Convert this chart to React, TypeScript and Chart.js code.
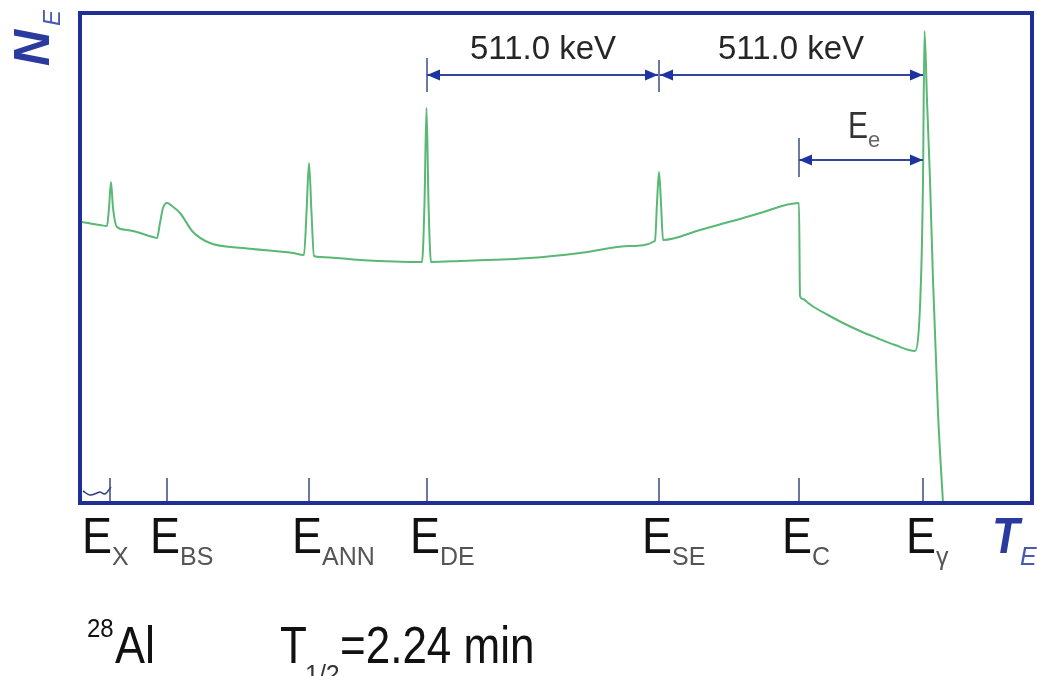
import React, { useEffect, useRef } from "react";
import { Chart, registerables } from "chart.js";

Chart.register(...registerables);

// Spectrum (schematic, arbitrary channel units vs. counts)
const channels = [
  2, 20, 27, 29, 31, 33, 37, 47, 73, 77, 80, 83, 87, 92, 100, 113, 130, 163, 213, 224,
  226.5, 229, 231.5, 234, 240, 280, 342, 344.5, 346.5, 348.5, 351, 380, 450, 500, 550,
  575, 577, 579, 581, 583, 620, 670, 680, 719, 720, 723, 727, 733, 748, 763, 780, 797, 815, 835,
  841, 843, 844.5, 847, 850, 853, 858, 863,
];
const counts = [
  281, 278, 277, 295, 321, 295, 276, 273, 266, 265, 280, 295, 300, 297, 290, 271, 260, 255, 250, 248,
  290, 340, 290, 247, 246, 243, 241, 300, 395, 300, 241, 242, 245, 250, 257,
  262, 300, 331, 300, 263, 273, 287, 290, 300, 207, 204, 201, 196.5, 188, 180, 172, 165, 158, 152,
  223, 323, 472, 403, 323, 223, 90, 0,
];

// small low-energy squiggle at the axis
const squiggleX = [3, 10, 17, 20, 25, 31];
const squiggleY = [12, 8, 10, 11, 9, 16];

// x-axis marker energies (channels) and their subscripts
const markerChannels = [30, 87, 229, 347, 579, 719, 843];
const markerSubs = ["X", "BS", "ANN", "DE", "SE", "C", "\u03b3"];

const gapLabel = "511.0 keV";
const Y_MAX = 490;
const X_MAX = 952;

const FONT = '"Liberation Sans", Arial, Helvetica, sans-serif';

function stretchedText(
  ctx: CanvasRenderingContext2D,
  text: string,
  x: number,
  baseline: number,
  font: string,
  color: string,
  sy = 1,
  align: CanvasTextAlign = "left"
) {
  ctx.save();
  ctx.font = font;
  ctx.fillStyle = color;
  ctx.textAlign = align;
  ctx.textBaseline = "alphabetic";
  ctx.translate(x, baseline);
  ctx.scale(1, sy);
  ctx.fillText(text, 0, 0);
  ctx.restore();
}

function arrowHead(ctx: CanvasRenderingContext2D, tipX: number, y: number, dir: number) {
  ctx.beginPath();
  ctx.moveTo(tipX, y);
  ctx.lineTo(tipX - dir * 13, y - 5.5);
  ctx.lineTo(tipX - dir * 13, y + 5.5);
  ctx.closePath();
  ctx.fill();
}

const overlay = {
  id: "overlay",
  afterDatasetsDraw(chart: any) {
    const { ctx, chartArea: a, scales } = chart;
    const xs = scales.x;
    const ys = scales.y;
    const px = (v: number) => xs.getPixelForValue(v);
    const py = (v: number) => ys.getPixelForValue(v);

    ctx.save();
    // marker ticks inside plot
    ctx.strokeStyle = "#3c4a78";
    ctx.lineWidth = 1.5;
    markerChannels.forEach((c) => {
      ctx.beginPath();
      ctx.moveTo(px(c), a.bottom);
      ctx.lineTo(px(c), a.bottom - 25);
      ctx.stroke();
    });

    // frame
    ctx.strokeStyle = "#1f2f95";
    ctx.lineWidth = 4;
    ctx.strokeRect(a.left, a.top, a.right - a.left, a.bottom - a.top);

    // dimension arrows
    const xDE = px(markerChannels[3]);
    const xSE = px(markerChannels[4]);
    const xC = px(markerChannels[5]);
    const xG = px(markerChannels[6]);
    const yTop = py(428);
    const yE = py(343);

    ctx.strokeStyle = "#6c78a6";
    ctx.lineWidth = 2;
    [[xDE, yTop - 17, yTop + 17], [xSE, yTop - 15, yTop + 17], [xC, yE - 22, yE + 17]].forEach(
      ([x, y1, y2]) => {
        ctx.beginPath();
        ctx.moveTo(x, y1);
        ctx.lineTo(x, y2);
        ctx.stroke();
      }
    );

    ctx.strokeStyle = "#3046a0";
    ctx.fillStyle = "#1d34a0";
    ctx.lineWidth = 2;
    const segs = [
      [xDE, xSE - 1, yTop],
      [xSE + 1, xG, yTop],
      [xC, xG, yE],
    ];
    segs.forEach(([x1, x2, y]) => {
      ctx.beginPath();
      ctx.moveTo(x1, y);
      ctx.lineTo(x2, y);
      ctx.stroke();
      arrowHead(ctx, x1, y, -1);
      arrowHead(ctx, x2, y, 1);
    });

    // 511 keV labels
    stretchedText(ctx, gapLabel, (xDE + xSE) / 2, yTop - 16, `33px ${FONT}`, "#262626", 1, "center");
    stretchedText(ctx, gapLabel, (xSE + xG) / 2, yTop - 16, `33px ${FONT}`, "#262626", 1, "center");

    // E_e label
    const eeX = (xC + xG) / 2 - 13;
    stretchedText(ctx, "E", eeX, yE - 22, `30px ${FONT}`, "#333333", 1.2);
    ctx.font = `30px ${FONT}`;
    const wE = ctx.measureText("E").width;
    stretchedText(ctx, "e", eeX + wE, yE - 13, `22px ${FONT}`, "#666666", 1);

    // x-axis labels
    const bigFont = `45px ${FONT}`;
    const subFont = `25px ${FONT}`;
    ctx.font = bigFont;
    const bigEW = ctx.measureText("E").width;
    markerChannels.forEach((c, i) => {
      const left = px(c) - (i === 0 ? 28 : 17);
      stretchedText(ctx, "E", left, a.bottom + 50, bigFont, "#111111", 1.12);
      stretchedText(ctx, markerSubs[i], left + bigEW, a.bottom + 62, subFont, "#555555", 1.05);
    });

    // T_E axis title
    const tx = a.right - 40;
    stretchedText(ctx, "T", tx, a.bottom + 50, `italic bold 45px ${FONT}`, "#2b3a9e", 1.12);
    stretchedText(ctx, "E", tx + 28, a.bottom + 62, `italic 25px ${FONT}`, "#4a58b0", 1.05);

    // N_E axis title (rotated)
    ctx.save();
    ctx.translate(49, 66);
    ctx.rotate(-Math.PI / 2);
    ctx.fillStyle = "#2b3a9e";
    ctx.font = `italic bold 50px ${FONT}`;
    ctx.fillText("N", 0, 0);
    ctx.font = `italic 24px ${FONT}`;
    ctx.fillStyle = "#4a58b0";
    ctx.fillText("E", 40, 11);
    ctx.restore();

    // nuclide / half-life caption
    stretchedText(ctx, "28", 87, 637, `24px ${FONT}`, "#111111", 1.05);
    stretchedText(ctx, "Al", 115, 663, `45px ${FONT}`, "#111111", 1.15);
    stretchedText(ctx, "T", 280, 663, `44px ${FONT}`, "#111111", 1.18);
    stretchedText(ctx, "1/2", 305, 683, `25px ${FONT}`, "#333333", 1.05);
    stretchedText(ctx, "=2.24 min", 340, 663, `44px ${FONT}`, "#111111", 1.18);

    ctx.restore();
  },
};

export default function App() {
  const ref = useRef<HTMLCanvasElement | null>(null);

  useEffect(() => {
    if (!ref.current) return;
    const chart = new Chart(ref.current, {
      type: "line",
      data: {
        datasets: [
          {
            data: channels.map((c, i) => ({ x: c, y: counts[i] })),
            borderColor: "#58b874",
            borderWidth: 2,
            pointRadius: 0,
            fill: false,
            cubicInterpolationMode: "monotone",
          },
          {
            data: squiggleX.map((c, i) => ({ x: c, y: squiggleY[i] })),
            borderColor: "#2f3c80",
            borderWidth: 1.5,
            pointRadius: 0,
            fill: false,
            tension: 0.4,
          },
        ],
      },
      options: {
        responsive: false,
        animation: false,
        devicePixelRatio: 1,
        layout: { padding: { left: 80, top: 13, right: 5, bottom: 173 } },
        scales: {
          x: { type: "linear", min: 0, max: X_MAX, display: false },
          y: { type: "linear", min: 0, max: Y_MAX, display: false },
        },
        plugins: { legend: { display: false }, tooltip: { enabled: false } },
      } as any,
      plugins: [overlay],
    });
    return () => chart.destroy();
  }, []);

  return (
    <div style={{ position: "fixed", left: 0, top: 0, width: 1037, height: 676, background: "#ffffff" }}>
      <canvas ref={ref} width={1037} height={676} style={{ width: 1037, height: 676, display: "block" }} />
    </div>
  );
}
